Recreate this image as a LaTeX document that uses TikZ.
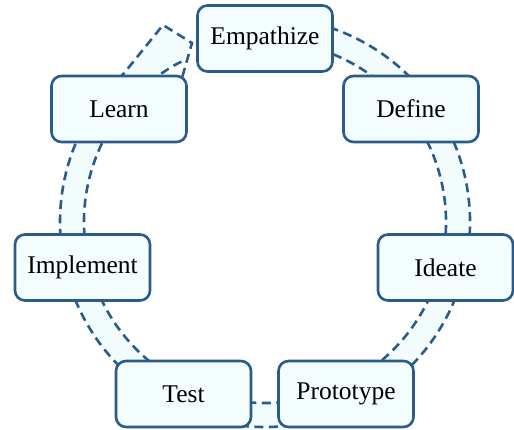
\documentclass[tikz,border=0pt]{standalone}
\usepackage{fontspec}
\setmainfont{Liberation Serif}
\definecolor{edgeblue}{HTML}{2B5B8A}
\definecolor{boxfill}{HTML}{F3FDFD}
\definecolor{bandfill}{HTML}{F2FCFD}
\tikzset{
  stagebox/.style={draw=edgeblue, fill=boxfill, line width=2.6pt, rounded corners=10pt,
    minimum width=135pt, minimum height=66pt, inner sep=0pt,
    font=\fontsize{25.5}{30}\selectfont, text=black},
  bandedge/.style={draw=edgeblue, line width=2.6pt, dash pattern=on 9pt off 5.5pt},
}
\begin{document}
\begin{tikzpicture}[x=1pt,y=1pt]
\useasboundingbox (0,0) rectangle (514,-430);
% ring band with arrow head
\coordinate (rc) at (265,-222);
\coordinate (tipT) at (163,-25);
\coordinate (tipB) at (192,-43);
\coordinate (tipC) at (182,-78);
\coordinate (tipP) at (185,-60);
\fill[bandfill] ([shift={(100:205)}]rc) arc[start angle=100,end angle=-226.6,radius=205]
  -- (tipT) -- (tipB) -- (tipC) -- (tipP)
  -- ([shift={(-241:181)}]rc) arc[start angle=-241,end angle=100,radius=181] -- cycle;
\draw[bandedge] ([shift={(100:205)}]rc) arc[start angle=100,end angle=-226.6,radius=205]
  -- (tipT) -- (tipB) -- (tipC);
\draw[bandedge] ([shift={(100:181)}]rc) arc[start angle=100,end angle=-241,radius=181]
  -- (tipP);
% stages
\node[stagebox] (emp) at (265,-38.5) {Empathize};
\node[stagebox] (def) at (411,-109) {Define};
\node[stagebox] (ide) at (445.5,-267.5) {Ideate};
\node[stagebox] (pro) at (346,-394) {Prototype};
\node[stagebox] (tes) at (183.5,-394) {Test};
\node[stagebox] (imp) at (82.5,-267.5) {Implement};
\node[stagebox] (lea) at (119,-109) {Learn};
\end{tikzpicture}
\end{document}
